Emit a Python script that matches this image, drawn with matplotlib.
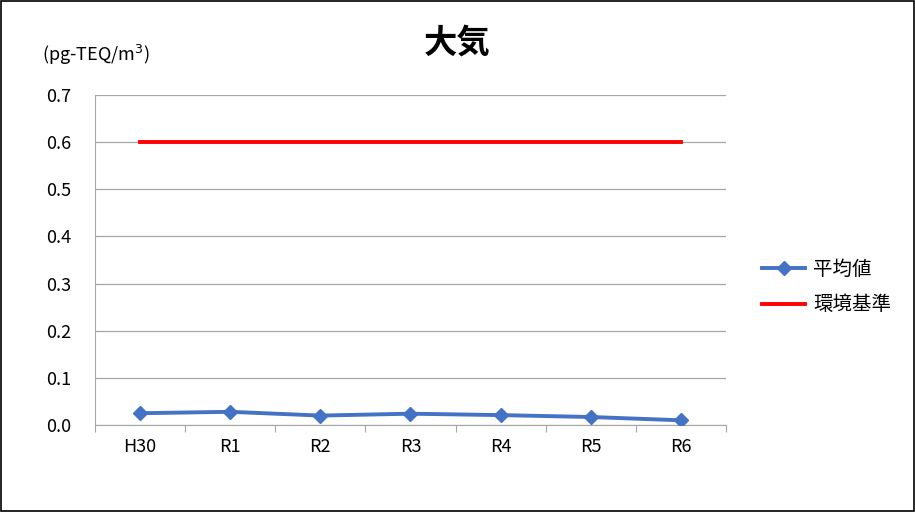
import matplotlib.pyplot as plt
import matplotlib as mpl
import numpy as np

mpl.rcParams["font.family"] = ["Noto Sans CJK JP", "DejaVu Sans"]

years = ["H30", "R1", "R2", "R3", "R4", "R5", "R6"]
avg_vals = [0.025, 0.028, 0.020, 0.024, 0.021, 0.017, 0.010]
std_vals = [0.6, 0.6, 0.6, 0.6, 0.6, 0.6, 0.6]

fig = plt.figure(figsize=(9.15, 5.12), dpi=100)
ax = fig.add_axes([0.1038, 0.1699, 0.6896, 0.6446])

x = np.arange(len(years))
ax.plot(x, avg_vals, color="#4472C4", lw=2.8, marker="D", ms=7, label="平均値", zorder=3)
ax.plot(x, std_vals, color="#FF0000", lw=2.8, label="環境基準", zorder=3)

ax.set_xlim(-0.5, len(years) - 0.5)
ax.set_ylim(0, 0.7)
ax.set_yticks(np.arange(0, 0.71, 0.1))
ax.set_yticklabels([f"{v:.1f}" for v in np.arange(0, 0.71, 0.1)], fontsize=13)
ax.yaxis.grid(True, color="#A6A6A6", lw=0.9)
ax.set_axisbelow(True)
ax.tick_params(axis="y", length=0, pad=17)

# category axis: ticks at boundaries, labels at centers
ax.set_xticks(np.arange(-0.5, len(years)), labels=[""] * (len(years) + 1))
ax.set_xticks(x, labels=years, minor=True)
ax.tick_params(axis="x", which="major", length=5, color="#A6A6A6")
ax.tick_params(axis="x", which="minor", length=0, labelsize=13, pad=9)

for s in ["top", "right"]:
    ax.spines[s].set_visible(False)
for s in ["left", "bottom"]:
    ax.spines[s].set_color("#A6A6A6")

fig.text(0.5, 0.915, "大気", fontsize=24, fontweight="bold", ha="center", va="center")
fig.text(0.046, 0.893, "(pg-TEQ/m$^3$)", fontsize=13, ha="left", va="center")

leg = ax.legend(loc="center left", bbox_to_anchor=(1.03, 0.418), frameon=False,
                fontsize=14, handlelength=2.2, handletextpad=0.4, labelspacing=0.75)

border = plt.Rectangle((0.001, 0.001), 0.998, 0.998, transform=fig.transFigure,
                       fill=False, edgecolor="black", lw=1.2)
fig.patches.append(border)

fig.savefig("out.png", dpi=100)
